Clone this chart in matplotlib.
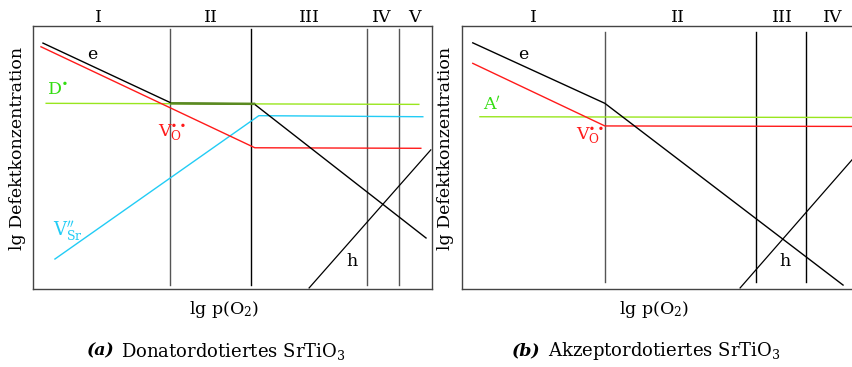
import matplotlib
matplotlib.use('Agg')
import matplotlib.pyplot as plt

plt.rcParams['font.family'] = 'DejaVu Serif'
plt.rcParams['mathtext.fontset'] = 'dejavuserif'

# --- (a) donor doped SrTiO3 (arbitrary units 0..100) ---
a_e_x = [2.5, 34.8, 55.4, 98.5]
a_e_y = [93.5, 70.6, 70.4, 19.4]
a_vo_x = [2.0, 55.6, 97.2]
a_vo_y = [92.1, 53.7, 53.5]
a_d_x = [3.3, 96.7]
a_d_y = [70.6, 70.2]
a_vsr_x = [5.5, 56.6, 97.7]
a_vsr_y = [11.4, 65.9, 65.5]
a_h_x = [69.2, 99.7]
a_h_y = [0.4, 52.9]
a_bounds = [34.3, 54.6, 83.7, 91.7]
a_bound_col = ['#555555', 'black', '#555555', '#555555']
a_regions = ['I', 'II', 'III', 'IV', 'V']
a_region_x = [16.3, 44.6, 69.4, 87.5, 95.5]

# --- (b) acceptor doped SrTiO3 ---
b_e_x = [2.7, 35.8, 95.5]
b_e_y = [93.6, 70.6, 1.5]
b_vo_x = [2.7, 35.8, 102]
b_vo_y = [85.8, 62.0, 61.8]
b_a_x = [4.5, 102]
b_a_y = [65.5, 65.2]
b_h_x = [69.7, 102]
b_h_y = [0.4, 56.5]
b_bounds = [35.8, 73.7, 86.2]
b_bound_col = ['#555555', 'black', 'black']
b_regions = ['I', 'II', 'III', 'IV']
b_region_x = [17.8, 54.1, 80.2, 93.0]

RED = '#ff1a1a'
GREEN = '#99e61e'
LBL_GREEN = '#33dd11'
CYAN = '#22ccf5'

fig = plt.figure(figsize=(8.52, 3.67), dpi=100)
W, H = 852, 367


def make_axes(left):
    ax = fig.add_axes([left / W, 78 / H, 399 / W, 263 / H])
    ax.set_xlim(0, 100)
    ax.set_ylim(0, 100)
    ax.set_xticks([])
    ax.set_yticks([])
    for s in ax.spines.values():
        s.set_color('#444444')
        s.set_linewidth(1.0)
    return ax


ax1 = make_axes(33)
for x, c in zip(a_bounds, a_bound_col):
    ax1.plot([x, x], [1.5, 98.9], color=c, lw=1.0)
ax1.plot(a_d_x, a_d_y, color=GREEN, lw=1.0)
ax1.plot(a_vsr_x, a_vsr_y, color=CYAN, lw=1.0)
ax1.plot(a_vo_x, a_vo_y, color=RED, lw=1.0)
ax1.plot(a_e_x, a_e_y, color='black', lw=1.0)
ax1.plot(a_e_x[1:3], a_e_y[1:3], color='#5a8a20', lw=1.8)
ax1.plot(a_h_x, a_h_y, color='black', lw=0.9)
for lab, x in zip(a_regions, a_region_x):
    ax1.text(x, 103.4, lab, ha='center', va='center', fontsize=12.5, clip_on=False)
ax1.text(14.8, 89.0, 'e', ha='center', va='center', fontsize=12.5)
ax1.text(6.0, 75.7, r'D$^{\bullet}$', color=LBL_GREEN, ha='center', va='center', fontsize=12.5)
ax1.text(34.8, 59.5, r'V$_\mathrm{O}^{\bullet\bullet}$', color=RED, ha='center', va='center', fontsize=12.5)
ax1.text(8.8, 21.7, r"V$_\mathrm{Sr}^{\prime\prime}$", color=CYAN, ha='center', va='center', fontsize=13)
ax1.text(80.0, 10.6, 'h', ha='center', va='center', fontsize=12.5)

ax2 = make_axes(462)
for x, c in zip(b_bounds, b_bound_col):
    ax2.plot([x, x], [2.7, 97.7], color=c, lw=1.0)
ax2.plot(b_a_x, b_a_y, color=GREEN, lw=1.0)
ax2.plot(b_vo_x, b_vo_y, color=RED, lw=1.0)
ax2.plot(b_e_x, b_e_y, color='black', lw=1.0)
ax2.plot(b_h_x, b_h_y, color='black', lw=0.9)
for lab, x in zip(b_regions, b_region_x):
    ax2.text(x, 103.4, lab, ha='center', va='center', fontsize=12.5, clip_on=False)
ax2.text(15.3, 89.0, 'e', ha='center', va='center', fontsize=12.5)
ax2.text(7.5, 70.0, r"A$^{\prime}$", color=LBL_GREEN, ha='center', va='center', fontsize=12.5)
ax2.text(32.1, 58.3, r'V$_\mathrm{O}^{\bullet\bullet}$', color=RED, ha='center', va='center', fontsize=12.5)
ax2.text(81.0, 10.6, 'h', ha='center', va='center', fontsize=12.5)

# axis labels
fig.text(18 / W, 1 - 148 / H, 'lg Defektkonzentration', rotation=90,
         ha='center', va='center', fontsize=12.5)
fig.text(446 / W, 1 - 148 / H, 'lg Defektkonzentration', rotation=90,
         ha='center', va='center', fontsize=12.5)
fig.text(224 / W, 1 - 309 / H, r'lg p(O$_2$)', ha='center', va='center', fontsize=12.5)
fig.text(654 / W, 1 - 309 / H, r'lg p(O$_2$)', ha='center', va='center', fontsize=12.5)

# captions
fig.text(87 / W, 1 - 351 / H, '(a)', ha='left', va='center', fontsize=12.5,
         fontweight='bold', fontstyle='italic')
fig.text(121 / W, 1 - 351 / H, r'Donatordotiertes SrTiO$_3$', ha='left', va='center', fontsize=13)
fig.text(512 / W, 1 - 351 / H, '(b)', ha='left', va='center', fontsize=12.5,
         fontweight='bold', fontstyle='italic')
fig.text(548 / W, 1 - 351 / H, r'Akzeptordotiertes SrTiO$_3$', ha='left', va='center', fontsize=13)

fig.savefig('out.png', dpi=100)
plt.close(fig)
